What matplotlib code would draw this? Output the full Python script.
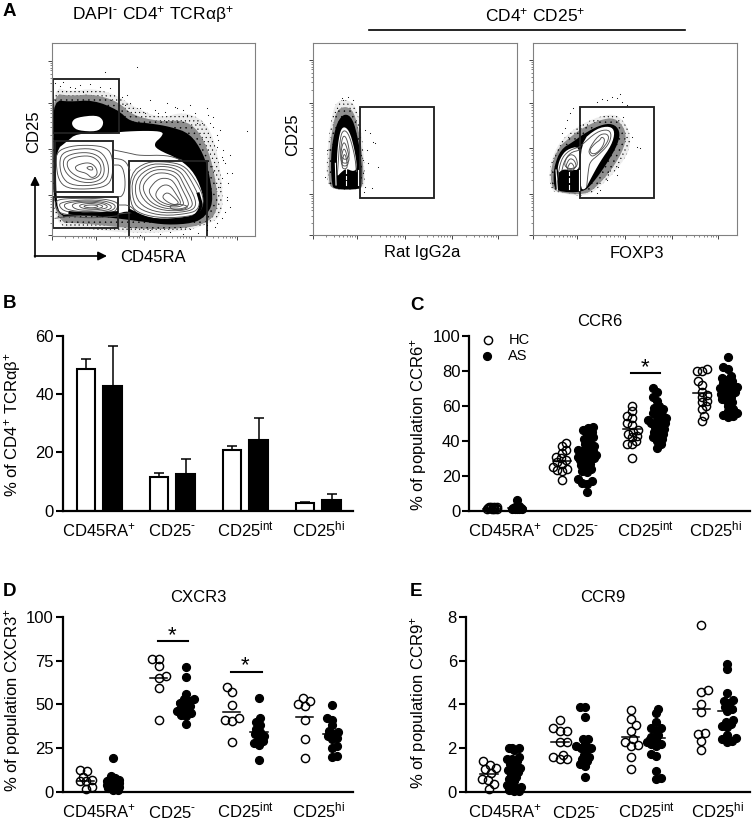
import matplotlib
matplotlib.use('Agg')
import matplotlib.pyplot as plt
import numpy as np
from matplotlib.patches import Polygon, Rectangle

plt.rcParams['font.family'] = ['Liberation Sans', 'DejaVu Sans']
plt.rcParams['mathtext.fontset'] = 'custom'
plt.rcParams['mathtext.rm'] = 'Liberation Sans'
plt.rcParams['mathtext.it'] = 'Liberation Sans'
plt.rcParams['mathtext.bf'] = 'Liberation Sans:bold'
plt.rcParams['mathtext.default'] = 'regular'
plt.rcParams['hatch.linewidth'] = 0.3

W, H = 753, 821
groups = ['CD45RA$^{+}$', 'CD25$^{\u2010}$', 'CD25$^{int}$', 'CD25$^{hi}$']

# panel B
b_hc = [48.5, 11.5, 20.7, 2.8]
b_hc_top = [52.0, 13.0, 22.3, 3.0]
b_as = [42.8, 12.5, 24.3, 3.8]
b_as_top = [56.5, 17.7, 32.0, 5.7]

# panel C
ccr6_hc = [[1, 1, 1.2, 1.2, 1.4, 1.5, 1.5, 1.8, 2, 2, 2.2, 2.2],
           [39, 37, 35, 33, 31, 30, 29, 28, 27, 25, 24, 23.5, 23, 17.5],
           [60, 57, 54, 53, 50, 49, 46, 45, 44, 43, 42, 40, 38, 38, 30],
           [81, 80, 80, 74, 72, 68, 66, 65, 63, 62, 60, 58, 54, 51.5]]
ccr6_as = [[1, 1, 1, 1.2, 1.2, 1.5, 1.5, 2, 2, 2.5, 6],
           [48, 47.5, 46, 45, 44, 42, 41, 40, 38, 37, 36, 35, 35, 34, 33, 33, 32, 32, 31, 31, 30, 30, 29, 28, 27, 26, 25, 24, 23, 22, 18, 17, 16, 15.5, 10.5],
           [70, 68, 65, 63, 60, 59, 58, 57, 56, 55, 54, 53, 52, 52, 51, 50, 50, 49, 48, 47, 46, 45, 44, 43, 42, 41, 40, 38, 36],
           [88, 82, 81, 77, 76, 75, 74, 73, 72, 71, 70, 70, 69, 68, 68, 67, 66, 65, 64, 63, 62, 60, 58, 57, 56, 55, 54, 53.5]]
ccr6_hc_mean = [1.2, 28.7, 47, 67.5]
ccr6_as_mean = [1.3, 33, 53, 69]

# panel D
cxcr3_hc = [[12.5, 12, 8.5, 7, 6, 6, 3, 1.5],
            [76, 76, 72, 66, 65, 59.5, 41],
            [60, 57, 49.5, 42, 41, 40.5, 28.5],
            [53.5, 52, 50, 49, 41, 30.5, 19.5]]
cxcr3_as = [[19.5, 9, 8, 7, 7, 6.5, 6, 6, 5, 5, 4, 4, 3, 3, 2, 2, 1, 1],
            [71.5, 65.5, 56, 53, 53, 52, 51, 50, 49, 48, 47, 46, 45, 44, 43.5, 39],
            [53.5, 42, 40, 38, 36, 34, 33, 32, 31, 29, 28, 27, 18],
            [49.5, 42, 41, 38, 35, 34, 33, 32, 31, 30, 26, 25, 20.5, 20]]
cxcr3_hc_mean = [6.5, 65, 45.5, 42.5]
cxcr3_as_mean = [6.5, 51.5, 34.5, 33]

# panel E
ccr9_hc = [[1.4, 1.25, 1.1, 1.05, 0.85, 0.6, 0.55, 0.35, 0.12],
           [3.3, 2.9, 2.8, 2.8, 2.3, 2.3, 1.7, 1.6, 1.5, 1.5],
           [3.75, 3.35, 3.05, 2.8, 2.4, 2.3, 2.15, 2.1, 1.6, 1.05],
           [7.6, 4.65, 4.55, 4.0, 3.65, 2.7, 2.65, 2.35, 1.9]]
ccr9_as = [[2, 2, 2, 1.9, 1.6, 1.5, 1.5, 1.4, 1.3, 1.2, 1.1, 1, 1, 0.9, 0.8, 0.7, 0.6, 0.5, 0.3, 0.3, 0.25, 0.2, 0.1, 0.05, 0.05],
           [3.9, 3.9, 3.4, 2.4, 2.4, 2.2, 2.1, 2, 2, 1.9, 1.7, 1.6, 1.5, 1.4, 1.3, 1.2, 0.7],
           [3.8, 3.6, 3.2, 2.9, 2.9, 2.8, 2.6, 2.5, 2.4, 2.3, 2.2, 2.2, 2.1, 1.75, 1.65, 0.95, 0.65, 0.6],
           [5.85, 5.6, 4.5, 4.2, 4.15, 4.05, 3.9, 3.8, 3.7, 3.3, 3.2, 3.1, 3.0, 2.95, 2.6, 2.45, 2.4, 2.35, 2.3]]
ccr9_hc_mean = [0.8, 2.3, 2.5, 3.8]
ccr9_as_mean = [1.05, 2.05, 2.45, 3.7]

# flow panel, CD25 / CD45RA outlines
a_halo = [(8, -10), (60, 5), (130, -5), (200, 15), (250, 50), (330, 85), (400, 65), (460, 90), (490, 140), (510, 230), (520, 330), (510, 380), (480, 400), (400, 425), (240, 430), (100, 415), (10, 410), (8, 200)]
a_mid = [(10, 10), (60, 18), (130, 12), (205, 35), (245, 75), (330, 95), (400, 90), (445, 120), (478, 190), (495, 260), (505, 340), (490, 385), (440, 410), (350, 418), (240, 415), (100, 400), (10, 398), (10, 150)]
a_dense = [(10, 30), (60, 35), (130, 30), (205, 60), (240, 95), (300, 100), (360, 110), (420, 130), (460, 190), (480, 260), (490, 340), (465, 380), (430, 400), (350, 405), (280, 395), (200, 385), (100, 375), (10, 385), (10, 150)]
a_holes = [[(65, 95), (80, 82), (140, 75), (160, 90), (158, 110), (140, 125), (85, 122), (68, 110)],
           [(50, 155), (80, 130), (160, 132), (215, 125), (290, 122), (340, 125), (335, 140), (312, 160), (320, 178), (390, 208), (435, 250), (462, 320), (455, 360), (430, 378), (340, 388), (270, 378), (235, 362), (200, 372), (130, 365), (70, 372), (25, 375), (18, 300), (18, 180)]]
a_contours = [[(20, 185), (60, 168), (120, 165), (170, 172), (188, 200), (188, 260), (170, 290), (110, 298), (50, 295), (25, 270), (18, 220)],
              [(35, 190), (70, 178), (125, 175), (160, 190), (178, 230), (170, 275), (120, 288), (60, 285), (35, 260), (28, 220)],
              [(45, 200), (80, 188), (125, 188), (155, 205), (165, 240), (155, 268), (120, 280), (75, 272), (48, 250), (38, 222)],
              [(55, 208), (90, 198), (125, 198), (148, 215), (155, 240), (145, 262), (118, 270), (85, 262), (60, 245), (50, 225)],
              [(75, 228), (105, 218), (125, 220), (140, 235), (142, 255), (125, 265), (110, 250), (90, 245), (78, 240)],
              [(108, 232), (125, 228), (130, 240), (118, 240)],
              [(18, 330), (60, 325), (150, 325), (200, 335), (205, 350), (190, 370), (100, 378), (30, 372), (15, 350)],
              [(30, 338), (80, 330), (150, 330), (190, 340), (198, 352), (180, 365), (100, 372), (45, 365), (28, 350)],
              [(45, 340), (90, 333), (150, 334), (182, 345), (185, 355), (165, 362), (100, 366), (55, 360), (42, 350)],
              [(65, 342), (100, 336), (150, 338), (175, 348), (165, 357), (100, 362), (70, 355)],
              [(85, 345), (120, 339), (155, 345), (160, 352), (130, 358), (95, 355)],
              [(100, 347), (130, 344), (148, 349), (130, 354), (105, 352)],
              [(240, 250), (290, 215), (350, 215), (400, 225), (430, 260), (462, 320), (455, 360), (430, 378), (340, 385), (270, 372), (240, 345)],
              [(245, 260), (295, 222), (350, 222), (395, 232), (420, 265), (450, 325), (445, 358), (420, 370), (340, 378), (275, 362), (248, 335)],
              [(258, 265), (300, 232), (350, 228), (390, 242), (410, 275), (438, 330), (435, 355), (410, 365), (340, 370), (285, 355), (255, 320)],
              [(270, 270), (305, 240), (350, 238), (385, 250), (402, 285), (428, 335), (425, 352), (400, 362), (340, 362), (295, 345), (268, 310)],
              [(280, 280), (310, 250), (350, 248), (380, 262), (395, 295), (418, 340), (410, 352), (385, 358), (340, 355), (302, 338), (280, 305)],
              [(298, 295), (325, 265), (360, 265), (378, 285), (398, 330), (402, 345), (380, 352), (340, 348), (312, 330), (298, 310)],
              [(315, 310), (335, 285), (360, 285), (380, 315), (395, 340), (378, 348), (345, 342), (322, 328)],
              [(335, 320), (352, 305), (375, 325), (388, 340), (372, 345), (350, 335)],
              [(358, 348), (375, 342), (405, 345), (415, 352), (395, 360), (365, 358)]]
a_open_lines = [[(192, 180), (240, 190), (270, 197), (350, 195), (395, 210)],
                [(190, 225), (215, 225), (225, 260), (225, 300), (215, 320), (205, 320)],
                [(192, 205), (225, 210), (240, 240)],
                [(205, 345), (240, 345), (262, 372)],
                [(205, 372), (245, 368)],
                [(15, 385), (60, 378), (120, 385), (200, 378)]]
a_heavy = [[(240, 362), (290, 386), (360, 396), (430, 386), (456, 350), (445, 312)],
           [(60, 368), (120, 373), (200, 368)]]
a_dots_x = [165, 260, 592, 540, 545, 530, 240, 225, 300, 350, 400, 420, 470, 490, 510, 500, 520, 530, 510, 530, 500, 180, 60, 30, 100, 230, 270, 325, 380, 440, 505, 490, 475, 520, 515, 300, 360, 420, 470, 15,
            285, 315, 345, 375, 410, 435, 455, 480, 500, 515, 525, 535, 540, 525, 515, 495, 470, 445, 400, 330, 270, 215, 90, 120, 150, 40, 75]
a_dots_y = [-55, -70, 123, 195, 250, 330, 40, 45, 30, 40, 60, 45, 55, 80, 120, 170, 180, 250, 290, 320, 400, -5, -8, -12, 5, 15, 55, 70, 55, 100, 150, 110, 75, 210, 265, 420, 425, 418, 405, -20,
            70, 60, 65, 50, 75, 70, 100, 100, 135, 200, 220, 280, 350, 365, 385, 410, 420, 428, 432, 433, 434, 20, -15, -18, -10, -25, -5]

# flow panel, rat IgG2a control
r_halo = [(48, 35), (80, 28), (105, 45), (118, 90), (130, 170), (135, 270), (130, 300), (30, 300), (18, 250), (25, 150), (35, 80)]
r_mid = [(50, 60), (78, 48), (102, 65), (118, 130), (130, 220), (130, 290), (110, 299), (35, 299), (25, 270), (28, 180), (38, 110)]
r_dense = [(55, 90), (75, 70), (98, 85), (115, 150), (125, 220), (124, 285), (122, 298), (45, 298), (35, 285), (32, 200), (42, 130)]
r_holes = [[(50, 200), (58, 130), (70, 108), (88, 122), (103, 175), (112, 235), (100, 245), (78, 235), (60, 250), (52, 260)]]
r_contours = [[(60, 195), (65, 150), (72, 135), (82, 150), (90, 195), (75, 212)],
              [(60, 212), (65, 170), (72, 155), (80, 170), (90, 212), (75, 222)],
              [(62, 222), (67, 185), (72, 175), (78, 185), (87, 222), (74, 230)],
              [(65, 232), (69, 200), (73, 192), (78, 200), (83, 232), (74, 238)]]
r_open_lines = [[(52, 255), (60, 140), (72, 118), (88, 135), (105, 200), (109, 245)]]
r_white_lines = [[(46, 220), (48, 285)], [(113, 240), (113, 285)], [(78, 238), (78, 250)], [(78, 258), (78, 266)], [(78, 274), (78, 284)]]
r_dots_x = [135, 150, 165, 175, 140, 130, 145, 128, 160, 135, 65, 85, 100, 70, 20, 15, 132, 155]
r_dots_y = [120, 130, 160, 230, 180, 210, 220, 250, 155, 290, 25, 22, 30, 30, 180, 260, 305, 295]

# flow panel, FOXP3
f_halo = [(28, 230), (50, 170), (80, 135), (120, 105), (175, 80), (230, 70), (270, 120), (270, 180), (230, 240), (180, 290), (140, 320), (60, 310), (30, 300)]
f_mid = [(33, 230), (55, 172), (90, 142), (125, 115), (178, 90), (225, 82), (258, 120), (255, 170), (215, 240), (170, 290), (135, 315), (55, 308), (33, 290)]
f_dense = [(42, 230), (62, 178), (100, 155), (130, 132), (180, 105), (218, 100), (240, 122), (235, 160), (198, 225), (158, 280), (128, 308), (50, 305), (40, 280)]
f_holes = [[(122, 155), (170, 115), (210, 108), (225, 125), (215, 165), (180, 215), (150, 270), (135, 300), (120, 295)],
           [(52, 235), (60, 205), (80, 178), (120, 168), (120, 240), (92, 240), (66, 238), (56, 250)]]
f_contours = [[(145, 180), (175, 135), (200, 130), (208, 145), (190, 175), (160, 200), (150, 195)],
              [(148, 180), (165, 160), (180, 150), (185, 140), (195, 148), (188, 170), (170, 190), (155, 192)],
              [(72, 228), (78, 205), (92, 192), (108, 200), (114, 228), (92, 238)],
              [(76, 232), (84, 212), (92, 205), (104, 212), (110, 232), (92, 240)],
              [(80, 238), (88, 222), (93, 218), (100, 225), (104, 238), (92, 244)]]
f_open_lines = [[(125, 165), (170, 125), (205, 118), (215, 135), (205, 165), (175, 195), (150, 215), (145, 240), (140, 290)],
                [(52, 270), (62, 210), (85, 182), (120, 170)],
                [(66, 240), (72, 215), (90, 188), (120, 180)]]
f_white_lines = [[(48, 240), (52, 300)], [(118, 240), (118, 300)], [(88, 245), (88, 255)], [(88, 265), (88, 275)], [(88, 285), (88, 296)]]
f_dots_x = [170, 185, 200, 215, 230, 245, 260, 100, 90, 80, 75, 65, 250, 275, 290, 300, 200, 180, 170, 230, 235, 120, 240]
f_dots_y = [35, 28, 30, 22, 25, 35, 45, 55, 70, 90, 115, 130, 80, 140, 170, 175, 270, 300, 310, 255, 230, 105, 12]


def px_axes(left, top, right, bottom):
    return fig.add_axes([left / W, 1 - bottom / H, (right - left) / W, (bottom - top) / H])


def smooth(pts, closed=True, n=2):
    # corner cutting so the outlines don't look like polygons
    pts = np.array(pts, dtype=float)
    for _ in range(n):
        nxt = np.roll(pts, -1, axis=0)
        q = 0.75 * pts + 0.25 * nxt
        r = 0.25 * pts + 0.75 * nxt
        new = np.empty((2 * len(pts), 2))
        new[0::2] = q
        new[1::2] = r
        if closed:
            pts = new
        else:
            pts = np.vstack([pts[0], new[:-2], pts[-1]])
    return pts


def decade_ticks(majors):
    out = []
    for a, b in zip(majors[:-1], majors[1:]):
        out += [a + (b - a) * np.log10(m) for m in range(2, 10)]
    return out


def flow_panel(ax, xlim, ylim, xmajor, ymajor, halo, mid, dense, holes, contours, open_lines, heavy, white_lines, dots_x, dots_y, gates):
    ax.set_xlim(*xlim)
    ax.set_ylim(*ylim)
    ax.add_patch(Polygon(smooth(halo), closed=True, facecolor='#ececec', edgecolor='none'))
    ax.add_patch(Polygon(smooth(halo), closed=True, facecolor='none', edgecolor='black', lw=0, hatch='....'))
    ax.add_patch(Polygon(smooth(mid), closed=True, facecolor='#8e8e8e', edgecolor='none'))
    ax.add_patch(Polygon(smooth(mid), closed=True, facecolor='none', edgecolor='black', lw=0, hatch='...'))
    ax.add_patch(Polygon(smooth(dense), closed=True, facecolor='black', edgecolor='none'))
    for h in holes:
        ax.add_patch(Polygon(smooth(h), closed=True, facecolor='white', edgecolor='none'))
    for c in contours:
        s = smooth(c)
        ax.add_patch(Polygon(s, closed=True, facecolor='none', edgecolor='#505050', lw=0.65))
    for c in open_lines:
        s = smooth(c, closed=False)
        ax.plot(s[:, 0], s[:, 1], color='#505050', lw=0.65)
    for c in heavy:
        s = smooth(c, closed=False)
        ax.plot(s[:, 0], s[:, 1], color='black', lw=2.2)
    for c in white_lines:
        ax.plot([p[0] for p in c], [p[1] for p in c], color='white', lw=0.8)
    ax.plot(dots_x, dots_y, ls='none', marker='.', ms=1.6, color='black', mew=0)
    for g in gates:
        ax.add_patch(Rectangle((g[0], g[1]), g[2] - g[0], g[3] - g[1], fill=False, edgecolor='#222222', lw=1.35))
    for s in ax.spines.values():
        s.set_color('#808080')
        s.set_linewidth(0.8)
    ax.set_xticks(xmajor)
    ax.set_yticks(ymajor)
    ax.set_xticks(decade_ticks(xmajor), minor=True)
    ax.set_yticks(decade_ticks(ymajor), minor=True)
    ax.tick_params(which='major', length=3, width=0.7, color='#444444', labelleft=False, labelbottom=False)
    ax.tick_params(which='minor', length=1.6, width=0.5, color='#555555')


def swarm(vals, ppy, maxw, step=1.0):
    # spread equal-ish values sideways, returned offsets are in pixels
    d = 7.0 if len(vals) <= 10 else 4.8
    placed = []
    out = []
    for n, v in enumerate(sorted(vals)):
        y = v * ppy
        cands = [0.0]
        k = 1
        while k * step <= maxw:
            cands += [k * step, -k * step] if n % 2 else [-k * step, k * step]
            k += 1
        best, best_d = 0.0, -1
        for c in cands:
            gap = min([np.hypot(c - a, y - b) for a, b in placed] or [99])
            if gap >= d:
                best, best_d = c, gap
                break
            if gap > best_d:
                best, best_d = c, gap
        placed.append((best, y))
        out.append(best)
    return sorted(vals), np.array(out)


def base_axes(ax, xlim, ymax, yticks, tick_shift=0.0):
    ax.set_xlim(*xlim)
    ax.set_ylim(0, ymax)
    ax.set_yticks(yticks)
    ax.set_xticks(np.arange(4) + tick_shift)
    ax.set_xticklabels(groups, fontsize=12)
    for t in ax.get_xticklabels():
        t.set_verticalalignment('baseline')
    ax.tick_params(axis='x', length=0, pad=18.5)
    ax.tick_params(axis='y', length=5, width=1.5, labelsize=12, pad=1.5)
    for s in ['top', 'right']:
        ax.spines[s].set_visible(False)
    for s in ['left', 'bottom']:
        ax.spines[s].set_linewidth(1.6)
        ax.spines[s].set_capstyle('projecting')


def dot_panel(ax, hc, hc_mean, as_, as_mean, offset, px_x, px_y, w0):
    for i in range(4):
        maxw = w0 if i == 0 else 9
        for vals, mean, sign, filled in [(hc[i], hc_mean[i], -1, False), (as_[i], as_mean[i], 1, True)]:
            yy, off = swarm(vals, px_y, maxw)
            xx = i + sign * offset + off / px_x
            if filled:
                ax.plot(xx, yy, ls='none', marker='o', ms=5.6, mfc='black', mec='black', clip_on=False, zorder=3)
            else:
                ax.plot(xx, yy, ls='none', marker='o', ms=5.9, mfc='none', mec='black', mew=1.05, clip_on=False, zorder=3)
            half = 8.8 / px_x
            ax.plot([i + sign * offset - half, i + sign * offset + half], [mean, mean], color='black', lw=1.1, zorder=4)


fig = plt.figure(figsize=(W / 100, H / 100), dpi=100)

# overlay in pixels for free text, panel letters and arrows
top = fig.add_axes([0, 0, 1, 1], zorder=10)
top.set_xlim(0, W)
top.set_ylim(H, 0)
top.axis('off')

# A
ax = px_axes(51.7, 42.7, 255, 236)
flow_panel(ax, (5, 615), (438, -142), [5, 137, 282, 422, 560], [435, 315, 177, 40, -87],
           a_halo, a_mid, a_dense, a_holes, a_contours, a_open_lines, a_heavy, [], a_dots_x, a_dots_y,
           [(10, -32, 208, 128), (16, 153, 190, 305), (10, 322, 205, 415), (238, 212, 470, 445)])
ax = px_axes(312.7, 42.7, 516.7, 235.3)
flow_panel(ax, (-22, 590), (436, -142), [-22, 110, 255, 395, 533], [435, 313, 175, 38, -90],
           r_halo, r_mid, r_dense, r_holes, r_contours, r_open_lines, [], r_white_lines, r_dots_x, r_dots_y,
           [(120, 50, 342, 325)])
ax = px_axes(532.7, 42.7, 736.7, 235.3)
flow_panel(ax, (-22, 590), (436, -142), [-22, 110, 255, 395, 533], [435, 313, 175, 38, -90],
           f_halo, f_mid, f_dense, f_holes, f_contours, f_open_lines, [], f_white_lines, f_dots_x, f_dots_y,
           [(120, 50, 342, 325)])

# B
ax = px_axes(62.7, 336, 353, 510.7)
base_axes(ax, (-0.502, 3.475), 60, [0, 20, 40, 60])
xpos = np.arange(4)
for vals, tops, shift, col in [(b_hc, b_hc_top, -0.183, 'white'), (b_as, b_as_top, 0.183, 'black')]:
    err = np.array(tops) - np.array(vals)
    ax.bar(xpos + shift, vals, width=0.255, facecolor=col, edgecolor='black', lw=1.5)
    ax.errorbar(xpos + shift, vals, yerr=[np.zeros(4), err], fmt='none', ecolor='black', elinewidth=1.1, capsize=3.8, capthick=1.1)

# C
ax = px_axes(469.3, 336, 750, 510.7)
base_axes(ax, (-0.501, 3.50), 100, [0, 20, 40, 60, 80, 100], 0.01)
dot_panel(ax, ccr6_hc, ccr6_hc_mean, ccr6_as, ccr6_as_mean, 0.18, 70.2, 1.747, 5)
ax.plot([1.80, 2.22], [79, 79], color='black', lw=1.5)
ax.text(2.01, 82, '*', ha='center', va='center', fontsize=16)

# D
ax = px_axes(62.7, 616.7, 353, 792)
base_axes(ax, (-0.502, 3.475), 100, [0, 25, 50, 75, 100])
dot_panel(ax, cxcr3_hc, cxcr3_hc_mean, cxcr3_as, cxcr3_as_mean, 0.188, 73, 1.753, 6)
ax.plot([0.80, 1.22], [86, 86], color='black', lw=1.5)
ax.text(1.0, 89, '*', ha='center', va='center', fontsize=16)
ax.plot([1.81, 2.23], [68.3, 68.3], color='black', lw=1.5)
ax.text(2.0, 72, '*', ha='center', va='center', fontsize=16)

# E
ax = px_axes(466, 616.7, 750, 792)
base_axes(ax, (-0.504, 3.507), 8, [0, 2, 4, 6, 8], 0.05)
dot_panel(ax, ccr9_hc, ccr9_hc_mean, ccr9_as, ccr9_as_mean, 0.18, 70.8, 21.92, 7)

# free text
for s, x, y in [('A', 3, 12), ('B', 3, 304), ('C', 410, 305), ('D', 3, 592), ('E', 410, 592)]:
    top.text(x, y, s, fontsize=13.5, fontweight='bold', ha='left', va='center')

top.text(153, 15, 'DAPI$^{\u2010}$ CD4$^{+}$ TCRαβ$^{+}$', fontsize=12.5, ha='center', va='center')
top.text(34, 132, 'CD25', fontsize=12, rotation=90, ha='center', va='center')
top.text(153, 257, 'CD45RA', fontsize=12, ha='center', va='center')
top.annotate('', xy=(35, 176), xytext=(35, 257), arrowprops=dict(arrowstyle='-|>', color='black', lw=1.2, shrinkA=0, shrinkB=0, mutation_scale=13))
top.annotate('', xy=(107, 256), xytext=(34.5, 256), arrowprops=dict(arrowstyle='-|>', color='black', lw=1.2, shrinkA=0, shrinkB=0, mutation_scale=13))

top.text(535, 15, 'CD4$^{+}$ CD25$^{+}$', fontsize=12.5, ha='center', va='center')
top.plot([369, 685], [30, 30], color='black', lw=1.2)
top.text(292.7, 135, 'CD25', fontsize=12, rotation=90, ha='center', va='center')
top.text(421.7, 253, 'Rat IgG2a', fontsize=12, ha='center', va='center')
top.text(636.7, 253, 'FOXP3', fontsize=12, ha='center', va='center')

top.text(13, 425, '% of CD4$^{+}$ TCRαβ$^{+}$', fontsize=12, rotation=90, ha='center', va='center')
top.text(419, 425, '% of population CCR6$^{+}$', fontsize=12, rotation=90, ha='center', va='center')
top.text(13, 700, '% of population CXCR3$^{+}$', fontsize=12, rotation=90, ha='center', va='center')
top.text(419, 703, '% of population CCR9$^{+}$', fontsize=12, rotation=90, ha='center', va='center')

top.text(600, 321.5, 'CCR6', fontsize=12, ha='center', va='center')
top.text(198, 597, 'CXCR3', fontsize=12, ha='center', va='center')
top.text(603, 597, 'CCR9', fontsize=12, ha='center', va='center')

# legend of panel C
top.plot([487.7], [340], ls='none', marker='o', ms=5.9, mfc='none', mec='black', mew=1.05)
top.plot([487.3], [356], ls='none', marker='o', ms=5.6, mfc='black', mec='black')
top.text(508.3, 340, 'HC', fontsize=10.5, ha='left', va='center')
top.text(507.5, 356, 'AS', fontsize=10.5, ha='left', va='center')

fig.savefig('out.png', dpi=100)
